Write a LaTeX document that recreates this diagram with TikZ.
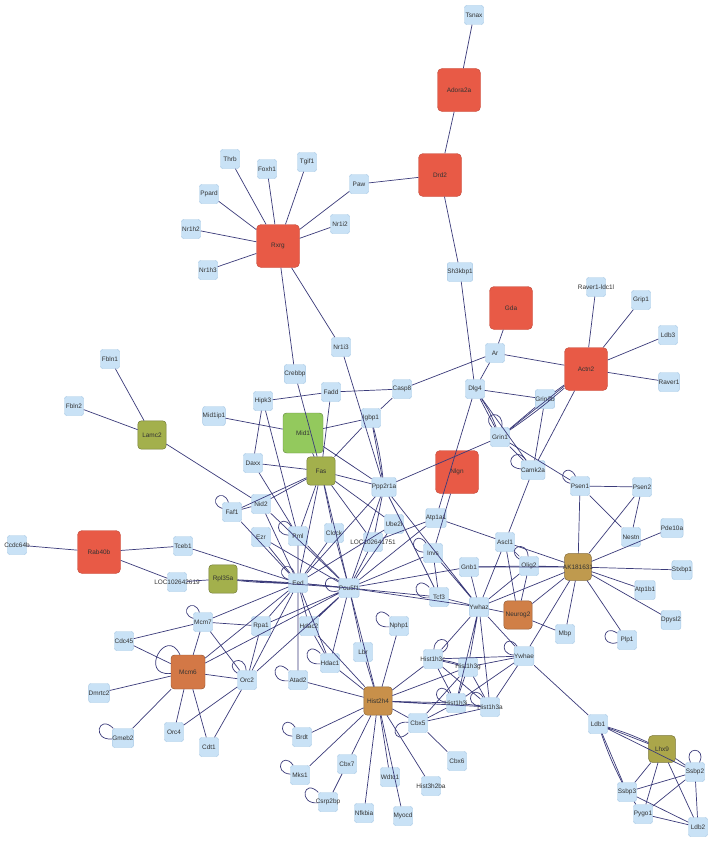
\documentclass[tikz,border=0pt]{standalone}
\usepackage{fontspec}
\setsansfont{Liberation Sans}
\usetikzlibrary{backgrounds}

\definecolor{genefill}{HTML}{C9E2F6}
\definecolor{geneline}{HTML}{A9CAE6}
\definecolor{hubred}{HTML}{E85A46}
\definecolor{hubolive}{HTML}{A3B04C}
\definecolor{hubkhaki}{HTML}{ABA64A}
\definecolor{hubgreen}{HTML}{93C95D}
\definecolor{huborange}{HTML}{D37846}
\definecolor{hubbrown}{HTML}{C8904A}
\definecolor{hubgold}{HTML}{BF9A4E}
\definecolor{edgeblue}{HTML}{3B3B7A}

% long labels run over the box
\newcommand{\wide}[1]{\makebox[0pt]{#1}}

\begin{document}
\begin{tikzpicture}[
    x=0.03cm, y=-0.03cm,
    gene/.style={draw=geneline, fill=genefill, rounded corners=2pt, minimum size=0.57cm, inner sep=0pt, font=\sffamily\fontsize{5.5}{6}\selectfont, text=black!80},
    bigbox/.style={gene, rounded corners=4pt, minimum size=1.29cm, fill=#1, draw=#1!85!black},
    midbox/.style={gene, rounded corners=3pt, minimum size=0.85cm, fill=#1, draw=#1!70!black},
    edge/.style={draw=edgeblue, line width=0.6pt},
    selfloop/.style={looseness=5, min distance=3mm},
]

\fill[white] (0,0) rectangle (714,843);
\useasboundingbox (0,0) rectangle (714,843);

% Top cluster
\node[gene] (tsnax) at (474,15) {Tsnax};
\node[bigbox=hubred] (adora) at (459,90) {Adora2a};
\node[bigbox=hubred] (drd2) at (440,175) {Drd2};
\node[gene] (paw) at (359,184) {Paw};
\node[gene] (tgif1) at (307,162) {Tgif1};
\node[gene] (foxh1) at (267,169) {Foxh1};
\node[gene] (thrb) at (230,159) {Thrb};
\node[gene] (ppard) at (209,194) {Ppard};
\node[gene] (nrhtwo) at (191,229) {Nr1h2};
\node[gene] (nrhthree) at (208,270) {Nr1h3};
\node[bigbox=hubred] (rxrg) at (278,246) {Rxrg};
\node[gene] (nritwo) at (340,224) {Nr1i2};
\node[gene] (sh3kbp1) at (460,272) {Sh3kbp1};
\node[gene] (nrithree) at (341,347) {Nr1i3};
\node[gene] (crebbp) at (295,374) {Crebbp};
\node[gene] (fadd) at (331,392) {Fadd};
\node[gene] (casp8) at (402,389) {Casp8};
\node[gene] (hipk3) at (263,401) {Hipk3};
\node[gene] (igbp1) at (371,418) {Igbp1};

% Actn2 cluster
\node[bigbox=hubred] (gda) at (511,308) {Gda};
\node[gene] (raverl) at (596,287) {\wide{Raver1-ldc1l}};
\node[gene] (grip1) at (641,300) {Grip1};
\node[gene] (ldb3) at (668,335) {Ldb3};
\node[gene] (raver1) at (669,382) {Raver1};
\node[bigbox=hubred] (actn2) at (586,369) {Actn2};
\node[gene] (ar) at (495,353) {Ar};
\node[gene] (dlg4) at (475,389) {Dlg4};
\node[gene] (grin2b) at (545,399) {Grin2b};
\node[gene] (grin1) at (500,437) {Grin1};
\node[gene] (camk2a) at (533,470) {Camk2a};
\node[bigbox=hubred] (nlgn) at (457,472) {Nlgn};

% Left side
\node[gene] (fbln1) at (110,359) {Fbln1};
\node[gene] (fbln2) at (74,406) {Fbln2};
\node[gene] (mid1ip1) at (214,416) {Mid1ip1};
\node[midbox=hubolive] (lamc2) at (152,435) {Lamc2};
\node[midbox=hubgreen, minimum size=1.2cm] (mid1) at (303,433) {Mid1};
\node[gene] (daxx) at (253,463) {Daxx};
\node[midbox=hubolive] (fas) at (321,471) {Fas};
\node[gene] (ppp2r1a) at (384,487) {Ppp2r1a};
\node[gene] (faf1) at (232,512) {Faf1};
\node[gene] (ccdc) at (17,545) {\wide{Ccdc64b}};
\node[bigbox=hubred] (rab40b) at (99,552) {Rab40b};
\node[gene] (tceb1) at (183,546) {Tceb1};
\node[gene] (loca) at (177,582) {\wide{LOC102642619}};
\node[midbox=hubolive] (rpl35a) at (223,579) {Rpl35a};
\node[gene] (nid2) at (261,504) {Nid2};
\node[gene] (ezr) at (261,537) {Ezr};
\node[gene] (pml) at (298,536) {Pml};
\node[gene] (clock) at (334,533) {Clock};
\node[gene] (ube2i) at (394,524) {Ube2i};
\node[gene] (locb) at (373,542) {\wide{LOC102641751}};
\node[gene] (atp1a1) at (436,518) {Atp1a1};
\node[gene] (invs) at (433,553) {Invs};
\node[gene] (eed) at (298,583) {Eed};
\node[gene] (pou5f1) at (349,588) {Pou5f1};
\node[gene] (tcf3) at (439,597) {Tcf3};
\node[gene] (gnb1) at (469,567) {Gnb1};

% Right side
\node[gene] (psen1) at (580,486) {Psen1};
\node[gene] (psen2) at (642,487) {Psen2};
\node[gene] (nestn) at (631,537) {Nestn};
\node[gene] (pde10a) at (672,528) {Pde10a};
\node[gene] (ascl1) at (505,542) {Ascl1};
\node[gene] (olig2) at (529,566) {Olig2};
\node[midbox=hubgold, minimum size=0.8cm] (ak) at (578,567) {\wide{AK181631}};
\node[gene] (stxbp1) at (682,570) {Stxbp1};
\node[gene] (atp1b1) at (645,590) {Atp1b1};
\node[gene] (dpysl2) at (671,620) {Dpysl2};
\node[gene] (ywhaz) at (479,607) {Ywhaz};
\node[midbox=huborange!70!hubbrown] (neurog2) at (518,615) {Neurog2};
\node[gene] (mbp) at (565,634) {Mbp};
\node[gene] (plp1) at (627,640) {Plp1};
\node[gene] (ywhae) at (524,656) {Ywhae};

% Lhx9 cluster
\node[gene] (ldb1) at (598,724) {Ldb1};
\node[midbox=hubkhaki, minimum size=0.8cm] (lhx9) at (662,749) {Lhx9};
\node[gene] (ssbp2) at (695,772) {Ssbp2};
\node[gene] (ssbp3) at (627,792) {Ssbp3};
\node[gene] (pygo1) at (643,814) {Pygo1};
\node[gene] (ldb2) at (698,827) {Ldb2};

% Mcm6 cluster
\node[gene] (mcm7) at (203,622) {Mcm7};
\node[gene] (rpa1) at (261,626) {Rpa1};
\node[gene] (cdc45) at (124,641) {Cdc45};
\node[midbox=huborange, minimum size=1.02cm] (mcm6) at (188,672) {Mcm6};
\node[gene] (orc2) at (247,680) {Orc2};
\node[gene] (dmrtc2) at (99,693) {Dmrtc2};
\node[gene] (gmeb2) at (123,738) {Gmeb2};
\node[gene] (orc4) at (174,732) {Orc4};
\node[gene] (cdt1) at (209,747) {Cdt1};

% Hist2h4 cluster
\node[gene] (hdac2) at (309,626) {Hdac2};
\node[gene] (nphp1) at (399,626) {Nphp1};
\node[gene] (lbr) at (363,652) {Lbr};
\node[gene] (hdac1) at (330,663) {Hdac1};
\node[gene] (atad2) at (298,680) {Atad2};
\node[midbox=hubbrown] (hist2h4) at (378,701) {Hist2h4};
\node[gene] (hhc) at (433,659) {\wide{Hist1h3c}};
\node[gene] (hhg) at (468,667) {\wide{Hist1h3g}};
\node[gene] (hhi) at (456,703) {\wide{Hist1h3i}};
\node[gene] (hha) at (490,707) {\wide{Hist1h3a}};
\node[gene] (cbx5) at (418,723) {Cbx5};
\node[gene] (brdt) at (302,737) {Brdt};
\node[gene] (cbx7) at (347,764) {Cbx7};
\node[gene] (cbx6) at (457,761) {Cbx6};
\node[gene] (mks1) at (300,775) {Mks1};
\node[gene] (wdtc1) at (390,777) {Wdtc1};
\node[gene] (h3h2ba) at (431,786) {\wide{Hist3h2ba}};
\node[gene] (csrp2bp) at (328,802) {\wide{Csrp2bp}};
\node[gene] (nfkbia) at (364,813) {Nfkbia};
\node[gene] (myocd) at (403,816) {Myocd};

% Edges
\draw[edge] (tsnax) -- (adora);
\draw[edge] (adora) -- (drd2);
\draw[edge] (drd2) -- (paw);
\draw[edge] (drd2) -- (sh3kbp1);
\draw[edge] (paw) -- (rxrg);
\draw[edge] (rxrg) -- (thrb) (rxrg) -- (ppard) (rxrg) -- (nrhtwo) (rxrg) -- (nrhthree);
\draw[edge] (rxrg) -- (foxh1) (rxrg) -- (tgif1) (rxrg) -- (nritwo) (rxrg) -- (nrithree) (rxrg) -- (crebbp);
\draw[edge] (crebbp) -- (fas);
\draw[edge] (nrithree) -- (ppp2r1a);
\draw[edge] (sh3kbp1) -- (dlg4);
\draw[edge] (hipk3) -- (fadd) (fadd) -- (casp8) (casp8) -- (ar) (casp8) -- (igbp1) (fadd) -- (fas);
\draw[edge] (hipk3) -- (daxx) (hipk3) -- (pml);
\draw[edge] (gda) -- (ar) (ar) -- (actn2) (ar) -- (dlg4);
\draw[edge] (actn2) -- (raverl) (actn2) -- (grip1) (actn2) -- (ldb3) (actn2) -- (raver1);
\draw[edge] (dlg4) -- (grin2b) (dlg4) -- (grin1) (dlg4) -- (camk2a) (dlg4) -- (atp1a1);
\draw[edge] (dlg4) to[bend left=6] (grin1);
\draw[edge] (grin2b) -- (actn2) (grin2b) -- (grin1) (grin2b) -- (camk2a);
\draw[edge] (actn2) -- (grin1) (actn2) -- (camk2a);
\draw[edge] (actn2) to[bend left=3] (grin1);
\draw[edge] (grin1) -- (camk2a) (grin1) -- (psen1) (grin1) -- (ppp2r1a);
\draw[edge] (camk2a) -- (ascl1);
\draw[edge] (nlgn) -- (invs);
\draw[edge] (psen1) -- (psen2) (psen1) -- (nestn) (psen1) -- (ak);
\draw[edge] (psen2) -- (nestn) (psen2) -- (ak);
\draw[edge] (ak) -- (pde10a) (ak) -- (stxbp1) (ak) -- (atp1b1) (ak) -- (dpysl2) (ak) -- (plp1) (ak) -- (mbp);
\draw[edge] (ak) -- (ywhae) (ak) -- (ywhaz) (ak) -- (olig2) (ak) -- (ascl1) (ak) -- (gnb1) (ak) -- (neurog2);
\draw[edge] (atp1a1) -- (ascl1) (ascl1) -- (ywhaz) (ascl1) -- (olig2) (ascl1) -- (neurog2);
\draw[edge] (olig2) -- (neurog2) (olig2) -- (ywhaz) (olig2) -- (gnb1);
\draw[edge] (neurog2) -- (ywhaz) (neurog2) -- (mbp);
\draw[edge] (ywhaz) -- (ywhae) (ywhaz) -- (tcf3) (ywhaz) -- (gnb1) (ywhaz) -- (pou5f1) (ywhaz) -- (ppp2r1a) (ywhaz) -- (invs);
\draw[edge] (ywhaz) -- (hhc) (ywhaz) -- (hhg) (ywhaz) -- (hhi) (ywhaz) -- (hha);
\draw[edge] (ywhae) -- (hhc) (ywhae) -- (hhg) (ywhae) -- (hhi) (ywhae) -- (hha);
\draw[edge] (ywhae) -- (ldb1);
\draw[edge] (hhc) -- (hhg) (hhc) -- (hhi) (hhc) -- (hha) (hhg) -- (hhi) (hhg) -- (hha) (hhi) -- (hha);
\draw[edge] (hhc) to[bend left=5] (hhg);

% Lhx9 cluster
\draw[edge] (ldb1) -- (lhx9) (ldb1) -- (ssbp2) (ldb1) -- (ssbp3);
\draw[edge] (ldb1) to[bend left=4] (lhx9);
\draw[edge] (ldb1) to[bend right=4] (ssbp3);
\draw[edge] (lhx9) -- (ssbp2) (lhx9) -- (ssbp3) (lhx9) -- (pygo1) (lhx9) -- (ldb2);
\draw[edge] (ssbp2) -- (ssbp3) (ssbp2) -- (pygo1) (ssbp2) -- (ldb2);
\draw[edge] (ssbp3) -- (pygo1) (ssbp3) -- (ldb2) (pygo1) -- (ldb2);

% Left side
\draw[edge] (lamc2) -- (fbln1) (lamc2) -- (fbln2) (lamc2) -- (nid2);
\draw[edge] (mid1ip1) -- (mid1);
\draw[edge] (mid1) -- (fas) (mid1) -- (igbp1) (mid1) -- (ppp2r1a);
\draw[edge] (daxx) -- (fas) (daxx) -- (pml);
\draw[edge] (fas) -- (igbp1) (fas) -- (ube2i) (fas) -- (locb) (fas) -- (eed) (fas) -- (pou5f1) (fas) -- (nid2);
\draw[edge] (fas) -- (pml) (fas) -- (clock) (fas) -- (faf1) (fas) -- (ppp2r1a);
\draw[edge] (igbp1) -- (ppp2r1a);
\draw[edge] (igbp1) to[bend left=4] (ppp2r1a);
\draw[edge] (ppp2r1a) -- (pou5f1) (ppp2r1a) -- (eed) (ppp2r1a) -- (tcf3) (ppp2r1a) -- (locb);
\draw[edge] (faf1) -- (nid2) (faf1) -- (eed);
\draw[edge] (nid2) -- (eed) (nid2) -- (pou5f1);
\draw[edge] (ezr) -- (eed) (ezr) -- (pou5f1);
\draw[edge] (pml) -- (eed) (pml) -- (pou5f1);
\draw[edge] (clock) -- (eed) (clock) -- (pou5f1);
\draw[edge] (ube2i) -- (pou5f1) (ube2i) -- (eed);
\draw[edge] (locb) -- (pou5f1) (locb) -- (atp1a1) (atp1a1) -- (pou5f1);
\draw[edge] (invs) -- (pou5f1) (invs) -- (tcf3);
\draw[edge] (gnb1) -- (pou5f1);
\draw[edge] (tcf3) -- (pou5f1) (tcf3) -- (eed);
\draw[edge] (eed) -- (pou5f1);
\draw[edge] (eed) -- (hdac2) (eed) -- (atad2) (eed) -- (hdac1) (eed) -- (rpa1) (eed) -- (mcm7) (eed) -- (mcm6) (eed) -- (orc2);
\draw[edge] (rab40b) -- (ccdc) (rab40b) -- (tceb1) (rab40b) -- (loca);
\draw[edge] (tceb1) -- (eed);
\draw[edge] (loca) -- (rpl35a);
\draw[edge] (rpl35a) -- (eed) (rpl35a) -- (pou5f1);
\draw[edge] (rpl35a) to[bend right=3] (eed);
\draw[edge] (pou5f1) -- (lbr) (pou5f1) -- (hdac2) (pou5f1) -- (hdac1) (pou5f1) -- (rpa1) (pou5f1) -- (orc2) (pou5f1) -- (mcm6);
\draw[edge] (hdac2) -- (hdac1);

% Mcm6 cluster
\draw[edge] (mcm7) -- (cdc45) (mcm7) -- (rpa1) (mcm7) -- (orc2) (mcm7) -- (mcm6);
\draw[edge] (mcm6) -- (cdc45) (mcm6) -- (dmrtc2) (mcm6) -- (gmeb2) (mcm6) -- (orc4) (mcm6) -- (cdt1) (mcm6) -- (orc2);
\draw[edge] (orc2) -- (orc4) (orc2) -- (cdt1) (orc2) -- (rpa1);

% Hist2h4 cluster
\draw[edge] (hist2h4) -- (hhc) (hist2h4) -- (hhg) (hist2h4) -- (hhi) (hist2h4) -- (hha) (hist2h4) -- (cbx5);
\draw[edge] (hist2h4) -- (lbr) (hist2h4) -- (nphp1) (hist2h4) -- (hdac1) (hist2h4) -- (hdac2) (hist2h4) -- (atad2);
\draw[edge] (hist2h4) -- (brdt) (hist2h4) -- (mks1) (hist2h4) -- (cbx7) (hist2h4) -- (wdtc1) (hist2h4) -- (nfkbia);
\draw[edge] (hist2h4) -- (myocd) (hist2h4) -- (h3h2ba) (hist2h4) -- (pou5f1);
\draw[edge] (cbx5) -- (cbx6) (cbx5) -- (hhi) (cbx5) -- (hha) (cbx5) -- (hhg);
\draw[edge] (cbx7) -- (csrp2bp);

% Self loops
\draw[edge] (faf1) to[selfloop, out=110, in=160] (faf1);
\draw[edge] (pml) to[selfloop, out=125, in=175] (pml);
\draw[edge] (eed) to[selfloop, out=110, in=160] (eed);
\draw[edge] (pou5f1) to[selfloop, out=145, in=195] (pou5f1);
\draw[edge] (invs) to[selfloop, out=125, in=175] (invs);
\draw[edge] (tcf3) to[selfloop, out=135, in=185] (tcf3);
\draw[edge] (nphp1) to[selfloop, out=135, in=185] (nphp1);
\draw[edge] (grin1) to[selfloop, out=80, in=130] (grin1);
\draw[edge] (camk2a) to[selfloop, out=125, in=175] (camk2a);
\draw[edge] (psen1) to[selfloop, out=115, in=165] (psen1);
\draw[edge] (olig2) to[selfloop, out=95, in=145] (olig2);
\draw[edge] (ywhae) to[selfloop, out=125, in=175] (ywhae);
\draw[edge] (plp1) to[selfloop, out=145, in=195] (plp1);
\draw[edge] (ssbp2) to[selfloop, out=65, in=115] (ssbp2);
\draw[edge] (mcm7) to[selfloop, out=110, in=160] (mcm7);
\draw[edge] (mcm6) to[selfloop, out=115, in=185, looseness=4] (mcm6);
\draw[edge] (gmeb2) to[selfloop, out=135, in=185] (gmeb2);
\draw[edge] (orc2) to[selfloop, out=95, in=145] (orc2);
\draw[edge] (hdac1) to[selfloop, out=135, in=185] (hdac1);
\draw[edge] (atad2) to[selfloop, out=135, in=185] (atad2);
\draw[edge] (brdt) to[selfloop, out=125, in=175] (brdt);
\draw[edge] (mks1) to[selfloop, out=125, in=175] (mks1);
\draw[edge] (csrp2bp) to[selfloop, out=135, in=185] (csrp2bp);
\draw[edge] (cbx5) to[selfloop, out=175, in=225] (cbx5);
\draw[edge] (hhc) to[selfloop, out=35, in=85] (hhc);
\draw[edge] (hhi) to[selfloop, out=125, in=175] (hhi);
\draw[edge] (hha) to[selfloop, out=125, in=175] (hha);

\end{tikzpicture}
\end{document}
